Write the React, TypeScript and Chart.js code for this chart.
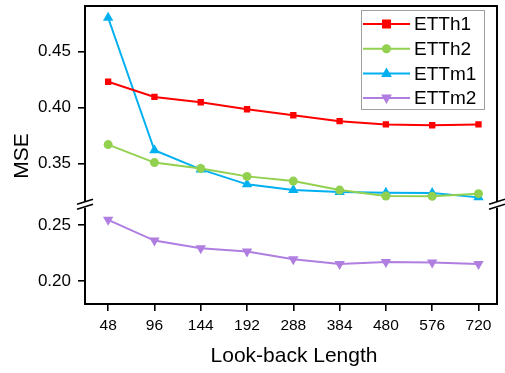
import React, { useEffect, useRef } from "react";
import { Chart, registerables } from "chart.js";

Chart.register(...registerables);

const xLabels = ["48", "96", "144", "192", "288", "384", "480", "576", "720"];
const etth1 = [0.423, 0.4095, 0.4047, 0.3985, 0.3932, 0.3879, 0.385, 0.3843, 0.385];
const etth2 = [0.367, 0.351, 0.3458, 0.3387, 0.3345, 0.3265, 0.3212, 0.321, 0.3233];
const ettm1 = [0.48, 0.362, 0.3449, 0.3316, 0.3265, 0.3248, 0.3242, 0.324, 0.32];
const ettm2 = [0.2545, 0.236, 0.2292, 0.2262, 0.2194, 0.2152, 0.217, 0.2164, 0.2152];
const yTicksUpper = [0.35, 0.4, 0.45];
const yTicksLower = [0.2, 0.25];

const FONT = "'Liberation Sans', Arial, sans-serif";

const framePlugin = {
  id: "frameAndLegend",
  afterDraw(chart: any) {
    const ctx = chart.ctx;
    const a = chart.chartArea;
    const yUp = chart.scales.y;
    const breakY = yUp.bottom;
    ctx.save();
    ctx.strokeStyle = "#000";
    ctx.lineWidth = 2;
    ctx.beginPath();
    ctx.moveTo(a.left, a.top);
    ctx.lineTo(a.right, a.top);
    ctx.lineTo(a.right, a.bottom);
    ctx.lineTo(a.left, a.bottom);
    ctx.closePath();
    ctx.stroke();
    const drawBreak = (x: number) => {
      ctx.fillStyle = "#fff";
      ctx.fillRect(x - 3, breakY - 3, 6, 6);
      ctx.strokeStyle = "#000";
      ctx.lineWidth = 1.6;
      ctx.beginPath();
      ctx.moveTo(x - 8, breakY - 0.5);
      ctx.lineTo(x + 8, breakY - 5.5);
      ctx.moveTo(x - 8, breakY + 4.5);
      ctx.lineTo(x + 8, breakY - 0.5);
      ctx.stroke();
    };
    drawBreak(a.left);
    drawBreak(a.right);
    ctx.fillStyle = "#000";
    ctx.font = `21px ${FONT}`;
    ctx.textAlign = "center";
    ctx.textBaseline = "middle";
    ctx.fillText("Look-back Length", 294, 356);
    ctx.save();
    ctx.translate(22, (a.top + a.bottom) / 2 + 1);
    ctx.rotate(-Math.PI / 2);
    ctx.fillText("MSE", 0, 0);
    ctx.restore();
    const lx = 361, ly = 10, lw = 123, lh = 99;
    ctx.fillStyle = "#fff";
    ctx.fillRect(lx, ly, lw, lh);
    ctx.strokeStyle = "#a0a0a0";
    ctx.lineWidth = 1;
    ctx.strokeRect(lx + 0.5, ly + 0.5, lw, lh);
    chart.data.datasets.forEach((ds: any, i: number) => {
      const yy = 24 + i * 24.7;
      ctx.strokeStyle = ds.borderColor;
      ctx.lineWidth = 2;
      ctx.beginPath();
      ctx.moveTo(363, yy);
      ctx.lineTo(410, yy);
      ctx.stroke();
      ctx.fillStyle = ds.borderColor;
      const r = ds.pointRadius;
      ctx.beginPath();
      if (ds.pointStyle === "rect") {
        ctx.fillRect(386.5 - r, yy - r, 2 * r, 2 * r);
      } else if (ds.pointStyle === "circle") {
        ctx.arc(386.5, yy, r, 0, Math.PI * 2);
        ctx.fill();
      } else {
        const dir = ds.pointRotation === 180 ? -1 : 1;
        ctx.moveTo(386.5, yy - dir * r);
        ctx.lineTo(386.5 - r * 0.9, yy + dir * r * 0.6);
        ctx.lineTo(386.5 + r * 0.9, yy + dir * r * 0.6);
        ctx.closePath();
        ctx.fill();
      }
      ctx.fillStyle = "#000";
      ctx.font = `19px ${FONT}`;
      ctx.textAlign = "left";
      ctx.textBaseline = "middle";
      ctx.fillText(ds.label, 414, yy + 1);
    });
    ctx.restore();
  },
};

function pts(arr: number[]) {
  return arr.map((v, i) => ({ x: i, y: v }));
}

const yFit = (s: any) => {
  s.width = 85;
  s.paddingTop = 0;
  s.paddingBottom = 0;
};

export default function App() {
  const ref = useRef<HTMLCanvasElement>(null);
  useEffect(() => {
    document.body.style.margin = "0";
    const canvas = ref.current!;
    const mk = (label: string, data: number[], color: string, style: string, radius: number, axis: string, rot = 0) => ({
      label,
      data: pts(data),
      borderColor: color,
      backgroundColor: color,
      borderWidth: 2,
      pointStyle: style,
      pointRadius: radius,
      pointRotation: rot,
      pointBorderWidth: 0,
      yAxisID: axis,
      tension: 0,
    });
    const yTickOpts = {
      callback: (v: any) => Number(v).toFixed(2),
      font: { family: FONT, size: 17 },
      color: "#000",
      padding: 7,
    };
    const gridOpts = { drawOnChartArea: false, tickLength: 7, color: "#000", lineWidth: 1.6 };
    const chart = new Chart(canvas, {
      type: "line",
      data: {
        datasets: [
          mk("ETTh1", etth1, "#ff0000", "rect", 4.5, "y"),
          mk("ETTh2", etth2, "#92d050", "circle", 4.5, "y"),
          mk("ETTm1", ettm1, "#00b0f0", "triangle", 6, "y"),
          mk("ETTm2", ettm2, "#b07ee0", "triangle", 6, "y2", 180),
        ] as any,
      },
      options: {
        animation: false,
        responsive: false,
        layout: { padding: { top: 5, right: 8, left: 0, bottom: 0 } },
        plugins: { legend: { display: false }, tooltip: { enabled: false } },
        scales: {
          x: {
            type: "linear",
            min: -0.5,
            max: 8.4,
            afterBuildTicks: (s: any) => {
              s.ticks = xLabels.map((_, i) => ({ value: i }));
            },
            afterFit: (s: any) => {
              s.height = 69;
              s.paddingLeft = 0;
              s.paddingRight = 0;
            },
            ticks: {
              callback: (v: any) => xLabels[v as number],
              font: { family: FONT, size: 15.5 },
              color: "#000",
              padding: 5,
              maxRotation: 0,
              autoSkip: false,
            },
            grid: gridOpts,
            border: { display: false },
          },
          y2: {
            type: "linear",
            position: "left",
            stack: "mse",
            stackWeight: 1,
            min: 0.1795,
            max: 0.268,
            afterBuildTicks: (s: any) => {
              s.ticks = yTicksLower.map((v) => ({ value: v }));
            },
            afterFit: yFit,
            ticks: yTickOpts,
            grid: gridOpts,
            border: { display: false },
          },
          y: {
            type: "linear",
            position: "left",
            stack: "mse",
            stackWeight: 2,
            min: 0.3135,
            max: 0.4905,
            afterBuildTicks: (s: any) => {
              s.ticks = yTicksUpper.map((v) => ({ value: v }));
            },
            afterFit: yFit,
            ticks: yTickOpts,
            grid: gridOpts,
            border: { display: false },
          },
        },
      } as any,
      plugins: [framePlugin],
    });
    return () => chart.destroy();
  }, []);
  return (
    <div style={{ width: 505, height: 373 }}>
      <canvas ref={ref} width={505} height={373} style={{ width: 505, height: 373, display: "block" }} />
    </div>
  );
}
